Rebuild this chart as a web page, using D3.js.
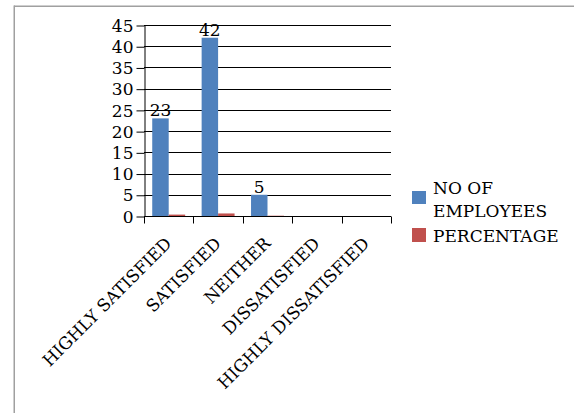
<!DOCTYPE html>
<html><head><meta charset="utf-8">
<script src="https://cdn.jsdelivr.net/npm/d3@7"></script>
<style>body{margin:0;background:#fff}svg{display:block}svg text{fill:#000}</style>
</head><body>
<svg id="c" width="574" height="413"></svg>
<script>
const categories = ["HIGHLY SATISFIED","SATISFIED","NEITHER","DISSATISFIED","HIGHLY DISSATISFIED"];
const employees = [23, 42, 5, 0, 0];
const percentage = [0.33, 0.6, 0.07, 0, 0];
const seriesNames = ["NO OF EMPLOYEES","PERCENTAGE"];
const seriesColors = ["#4f81bd","#c0504d"];
const yTicks = [0,5,10,15,20,25,30,35,40,45];

(function(){
const FONT = "DejaVu Serif";
const FS = 17;
const svg = d3.select("#c");
// outer frame
svg.append("line").attr("x1",14).attr("x2",574).attr("y1",6.25).attr("y2",6.25).attr("stroke","#a0a0a0").attr("stroke-width",1.5);
svg.append("line").attr("x1",14.25).attr("x2",14.25).attr("y1",5.5).attr("y2",413).attr("stroke","#a0a0a0").attr("stroke-width",1.5);

const pl=144, pr=391, pt=25, pb=216;
const x = d3.scaleBand().domain(categories).range([pl,pr]).paddingInner(0).paddingOuter(0);
const y = d3.scaleLinear().domain([0,45]).range([pb,pt]);
const inner = d3.scaleBand().domain([0,1]).range([0,x.bandwidth()]).paddingInner(0).paddingOuter(0.5);

// gridlines
svg.append("g").selectAll("line").data(yTicks.filter(d=>d>0)).join("line")
  .attr("x1",pl).attr("x2",pr).attr("y1",d=>Math.round(y(d))+0.5).attr("y2",d=>Math.round(y(d))+0.5)
  .attr("stroke","#000").attr("stroke-width",1);

// bars
const data = [employees, percentage];
data.forEach((vals,si)=>{
  svg.append("g").selectAll("rect").data(categories).join("rect")
    .attr("x",(c)=>x(c)+inner(si))
    .attr("width",inner.bandwidth())
    .attr("y",(c,i)=>y(vals[i]))
    .attr("height",(c,i)=>pb-y(vals[i]))
    .attr("fill",seriesColors[si]);
});

// y axis
const ya = svg.append("g").attr("transform",`translate(${pl+0.5},0)`)
  .call(d3.axisLeft(y).tickValues(yTicks).tickSize(8).tickPadding(3).tickSizeOuter(0));
ya.attr("font-family",FONT).attr("font-size",FS);
ya.select(".domain").attr("stroke","#000");
ya.selectAll(".tick line").attr("stroke","#000");
ya.selectAll(".tick line").attr("transform","translate(0,0.5)");
ya.selectAll("text").attr("dy","0.36em").attr("fill","#000");

// x axis
const xa = svg.append("g").attr("transform",`translate(0,${pb+0.5})`);
xa.append("line").attr("x1",pl).attr("x2",pr).attr("stroke","#000");
const bounds = categories.map(c=>x(c)).concat([pr]);
xa.selectAll("line.t").data(bounds).join("line").attr("class","t")
  .attr("x1",d=>Math.round(d)+0.5).attr("x2",d=>Math.round(d)+0.5).attr("y1",0).attr("y2",7).attr("stroke","#000");
xa.selectAll("text").data(categories).join("text")
  .attr("text-anchor","end").attr("font-size",FS).attr("font-family",FONT)
  .attr("transform",c=>`translate(${x(c)+x.bandwidth()/2+4},${28}) rotate(-45)`)
  .text(c=>c);

// data labels
svg.append("g").selectAll("text").data(categories.filter((c,i)=>employees[i]>0)).join("text")
  .attr("x",c=>x(c)+inner(0)+inner.bandwidth()/2)
  .attr("y",c=>y(employees[categories.indexOf(c)])-2)
  .attr("text-anchor","middle").attr("font-size",FS).attr("font-family",FONT)
  .text(c=>employees[categories.indexOf(c)]);

// legend
const lg = svg.append("g").attr("font-family",FONT).attr("font-size",FS);
lg.append("rect").attr("x",412).attr("y",191).attr("width",14).attr("height",13).attr("fill",seriesColors[0]);
lg.append("text").attr("x",433).attr("y",194).text("NO OF");
lg.append("text").attr("x",433).attr("y",217).text("EMPLOYEES");
lg.append("rect").attr("x",412).attr("y",228).attr("width",14).attr("height",14).attr("fill",seriesColors[1]);
lg.append("text").attr("x",433).attr("y",242).text("PERCENTAGE");
})();
</script>
</body></html>
